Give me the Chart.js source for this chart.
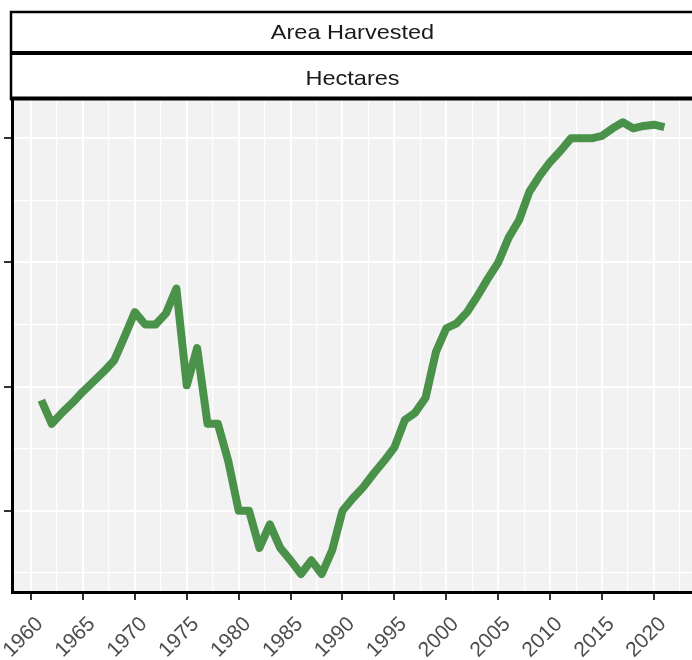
<!DOCTYPE html>
<html>
<head>
<meta charset="utf-8">
<script src="https://cdn.jsdelivr.net/npm/chart.js@4"></script>
<style>
  html, body { margin: 0; padding: 0; background: #ffffff; }
  #wrap { width: 692px; height: 660px; position: relative; }
</style>
</head>
<body>
<div id="wrap"><canvas id="area-chart"></canvas></div>
<script>
// values (y axis has no printed labels, units are grid steps)
var years = [1961, 1962, 1963, 1964, 1965, 1966, 1967, 1968, 1969, 1970,
             1971, 1972, 1973, 1974, 1975, 1976, 1977, 1978, 1979, 1980,
             1981, 1982, 1983, 1984, 1985, 1986, 1987, 1988, 1989, 1990,
             1991, 1992, 1993, 1994, 1995, 1996, 1997, 1998, 1999, 2000,
             2001, 2002, 2003, 2004, 2005, 2006, 2007, 2008, 2009, 2010,
             2011, 2012, 2013, 2014, 2015, 2016, 2017, 2018, 2019, 2020, 2021];
var hectares = [1.89, 1.70, 1.79, 1.87, 1.96, 2.04, 2.12, 2.21, 2.40, 2.60,
                2.50, 2.50, 2.59, 2.79, 2.01, 2.31, 1.70, 1.70, 1.40, 1.00,
                1.00, 0.70, 0.89, 0.70, 0.60, 0.49, 0.60, 0.49, 0.68, 1.00,
                1.10, 1.19, 1.30, 1.40, 1.51, 1.73, 1.79, 1.91, 2.28, 2.47,
                2.51, 2.60, 2.73, 2.87, 3.00, 3.20, 3.34, 3.57, 3.70, 3.81,
                3.90, 4.00, 4.00, 4.00, 4.02, 4.08, 4.13, 4.08, 4.10, 4.11, 4.09];
var xTicks = [1960, 1962.5, 1965, 1967.5, 1970, 1972.5, 1975, 1977.5, 1980, 1982.5,
              1985, 1987.5, 1990, 1992.5, 1995, 1997.5, 2000, 2002.5, 2005, 2007.5,
              2010, 2012.5, 2015, 2017.5, 2020, 2022.5];
var yTicks = [0.5, 1, 1.5, 2, 2.5, 3, 3.5, 4];
var stripLabels = ['Area Harvested', 'Hectares'];

var isMajorX = function (v) { return v % 5 === 0; };
var isMajorY = function (v) { return v % 1 === 0; };

var panelAndStrips = {
    id: 'panelAndStrips',
    beforeDraw: function (chart) {
        var ctx = chart.ctx, a = chart.chartArea;
        ctx.save();
        ctx.fillStyle = '#f2f2f2';
        ctx.fillRect(a.left, a.top, a.right - a.left, a.bottom - a.top);
        ctx.restore();
    },
    afterDraw: function (chart) {
        var ctx = chart.ctx;
        ctx.save();
        ctx.fillStyle = '#ffffff';
        ctx.fillRect(11, 12, 690, 87);
        ctx.strokeStyle = '#000000';
        // outer top + left edges
        ctx.lineWidth = 2.5;
        ctx.beginPath();
        ctx.moveTo(11, 100); ctx.lineTo(11, 12); ctx.lineTo(700, 12);
        ctx.stroke();
        // divider and bottom edge are heavier (two borders meet there)
        ctx.lineWidth = 4;
        ctx.beginPath();
        ctx.moveTo(10, 53); ctx.lineTo(700, 53);
        ctx.moveTo(10, 98.5); ctx.lineTo(700, 98.5);
        ctx.stroke();

        ctx.fillStyle = '#1a1a1a';
        ctx.font = '21px "Liberation Sans", Arial, sans-serif';
        ctx.textAlign = 'center';
        ctx.textBaseline = 'alphabetic';
        var baselines = [38.5, 85];
        stripLabels.forEach(function (t, i) {
            ctx.save();
            ctx.translate(352.5, baselines[i]);
            ctx.scale(1.12, 1);
            ctx.fillText(t, 0, 0);
            ctx.restore();
        });
        ctx.restore();
    }
};

var ctx = document.getElementById('area-chart').getContext('2d');

new Chart(ctx, {
    type: 'line',
    data: {
        datasets: [{
            label: 'Hectares',
            data: years.map(function (y, i) { return { x: y, y: hectares[i] }; }),
            borderColor: '#4a9149',
            borderWidth: 8,
            borderJoinStyle: 'round',
            borderCapStyle: 'butt',
            pointRadius: 0,
            tension: 0,
            fill: false
        }]
    },
    options: {
        responsive: true,
        maintainAspectRatio: false,
        animation: false,
        layout: { padding: { top: 100, right: 0, bottom: 0, left: 0 } },
        scales: {
            x: {
                type: 'linear',
                min: 1958.17,
                max: 2023.66,
                afterBuildTicks: function (s) { s.ticks = xTicks.map(function (v) { return { value: v }; }); },
                afterFit: function (s) { s.height = 68; s.paddingLeft = 0; s.paddingRight = 0; },
                border: { display: true, color: '#000000', width: 3 },
                grid: {
                    color: '#ffffff',
                    lineWidth: function (c) { return isMajorX(c.tick.value) ? 2 : 1.2; },
                    tickColor: function (c) { return isMajorX(c.tick.value) ? '#333333' : 'rgba(0,0,0,0)'; },
                    tickLength: 8,
                    tickWidth: 2
                },
                ticks: {
                    autoSkip: false,
                    minRotation: 45,
                    maxRotation: 45,
                    padding: 12,
                    labelOffset: 9,
                    color: '#4d4d4d',
                    font: { family: '"Liberation Sans", Arial, sans-serif', size: 21 },
                    callback: function (v) { return isMajorX(v) ? String(v) : ''; }
                }
            },
            y: {
                type: 'linear',
                min: 0.345,
                max: 4.309,
                afterBuildTicks: function (s) { s.ticks = yTicks.map(function (v) { return { value: v }; }); },
                afterFit: function (s) { s.width = 12; s.paddingTop = 0; s.paddingBottom = 0; },
                border: { display: true, color: '#000000', width: 3 },
                grid: {
                    color: '#ffffff',
                    lineWidth: function (c) { return isMajorY(c.tick.value) ? 2 : 1.2; },
                    tickColor: function (c) { return isMajorY(c.tick.value) ? '#333333' : 'rgba(0,0,0,0)'; },
                    tickLength: 8,
                    tickWidth: 2
                },
                ticks: { display: false }
            }
        },
        plugins: {
            legend: { display: false },
            tooltip: { enabled: false }
        }
    },
    plugins: [panelAndStrips]
});
</script>
</body>
</html>
